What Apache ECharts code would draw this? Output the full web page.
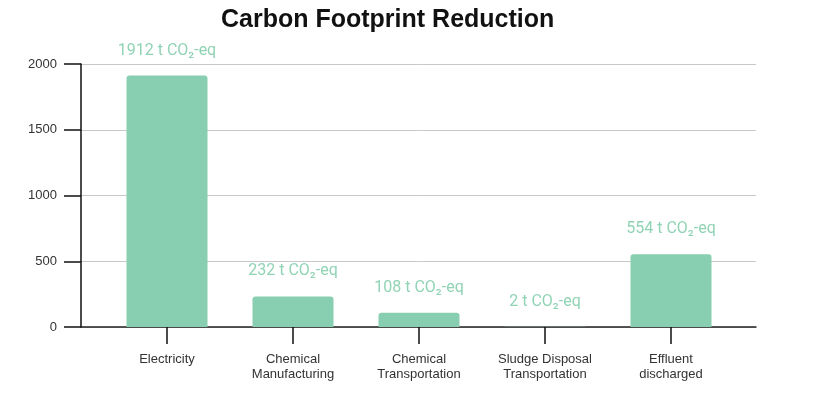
<!DOCTYPE html>
<html>
<head>
<meta charset="utf-8">
<script src="https://cdn.jsdelivr.net/npm/echarts@6/dist/echarts.min.js"></script>
<style>
html,body{margin:0;padding:0;background:#fff;}
#chart{width:821px;height:393px;}
</style>
</head>
<body>
<div id="chart"></div>
<script>
var categories = ['Electricity', 'Chemical\nManufacturing', 'Chemical\nTransportation', 'Sludge Disposal\nTransportation', 'Effluent\ndischarged'];
var reductions = [1912, 232, 108, 2, 554];
var unitSuffix = ' t CO\u2082-eq';
var yTicks = [0, 500, 1000, 1500, 2000];

var chart = echarts.init(document.getElementById('chart'));
var yMin = yTicks[0], yMax = yTicks[yTicks.length - 1], yStep = yTicks[1] - yTicks[0];
var option = {
  animation: false,
  backgroundColor: '#ffffff',
  title: {
    text: 'Carbon Footprint Reduction',
    left: 216, top: 3,
    textStyle: { fontFamily: 'Liberation Sans, Arial, sans-serif', fontSize: 25, fontWeight: 'bold', color: '#111' }
  },
  grid: [
    { left: 81, right: 65, top: 64, bottom: 66 },
    { left: 104, right: 87, top: 64, bottom: 66 }
  ],
  xAxis: [
    { gridIndex: 0, type: 'category', data: categories,
      axisLine: { show: true, lineStyle: { color: '#222', width: 1.5 } },
      axisTick: { show: false }, axisLabel: { show: false }, splitLine: { show: false } },
    { gridIndex: 1, type: 'category', data: categories,
      axisLine: { show: false },
      axisTick: { show: true, alignWithLabel: true, length: 17, lineStyle: { color: '#111', width: 1.5 } },
      axisLabel: { margin: 25, fontFamily: 'Liberation Sans, Arial, sans-serif', fontSize: 13, color: '#333', lineHeight: 15 } }
  ],
  yAxis: [
    { gridIndex: 0, type: 'value', min: yMin, max: yMax, interval: yStep,
      axisLine: { show: true, lineStyle: { color: '#111', width: 1.5 } },
      axisTick: { show: true, length: 17, lineStyle: { color: '#111', width: 1.5 } },
      axisLabel: { margin: 24, fontFamily: 'Liberation Sans, Arial, sans-serif', fontSize: 13, color: '#333',
        formatter: function (v) { return String(v); } },
      splitLine: { show: true, lineStyle: { color: '#c8c8c8', width: 1 } } },
    { gridIndex: 1, type: 'value', min: yMin, max: yMax, interval: yStep, show: false }
  ],
  series: [{
    type: 'bar', xAxisIndex: 1, yAxisIndex: 1,
    data: reductions,
    barWidth: 81,
    itemStyle: { color: '#88ceb0', borderRadius: [3, 3, 0, 0] },
    label: {
      show: true, position: 'top', distance: 17,
      formatter: function (p) { return p.value + unitSuffix; },
      fontFamily: 'Roboto, sans-serif', fontSize: 16, color: '#90d3b5'
    }
  }]
};
chart.setOption(option);
</script>
</body>
</html>
